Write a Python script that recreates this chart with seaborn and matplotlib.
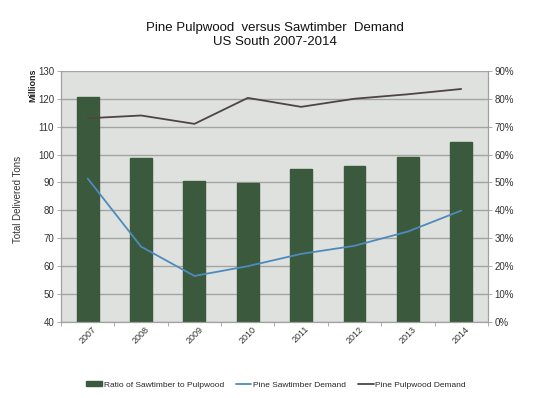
import matplotlib
matplotlib.use("Agg")
import matplotlib.pyplot as plt
from matplotlib.patches import Patch
from matplotlib.lines import Line2D
import seaborn as sns
import pandas as pd

years = ["2007", "2008", "2009", "2010", "2011", "2012", "2013", "2014"]
ratio_pct = [80.8, 58.7, 50.6, 49.8, 54.8, 55.9, 59.0, 64.5]
sawtimber = [91.4, 67.0, 56.5, 60.0, 64.4, 67.3, 72.4, 79.9]
pulpwood = [113.0, 114.0, 111.0, 120.3, 117.1, 120.0, 121.6, 123.5]
left_ticks = [40, 50, 60, 70, 80, 90, 100, 110, 120, 130]
right_ticks = [0, 10, 20, 30, 40, 50, 60, 70, 80, 90]

df = pd.DataFrame({"year": years, "ratio": ratio_pct,
                   "saw": sawtimber, "pulp": pulpwood})

sns.set_theme(style="white")
plt.rcParams['font.family'] = ['Liberation Sans', 'DejaVu Sans']

bar_c = "#3b5a3d"
saw_c = "#4d8bbd"
pulp_c = "#4f4444"
grid_c = "#a3a5a3"

fig = plt.figure(figsize=(5.5, 3.98), dpi=100)
ax = fig.add_axes([0.111, 0.191, 0.776, 0.631])
ax.set_facecolor("#dfe1de")

sns.barplot(data=df, x="year", y="ratio", color=bar_c, width=0.41,
            saturation=1, ax=ax, edgecolor=bar_c)
ax.set_ylim(0, 90)
ax.set_axisbelow(True)
ax.grid(axis="y", color=grid_c, linewidth=1.0)
ax.set_xlabel("")
ax.set_ylabel("")

ax2 = ax.twinx()
sns.lineplot(data=df, x="year", y="pulp", color=pulp_c, linewidth=1.3, ax=ax2)
sns.lineplot(data=df, x="year", y="saw", color=saw_c, linewidth=1.3, ax=ax2)
ax2.set_ylim(40, 130)
ax2.set_yticks(left_ticks)
ax2.set_ylabel("")
ax2.set_xlabel("")
ax.set_xlim(-0.5, 7.5)

ax.set_yticks(right_ticks)
ax.set_yticklabels([f"{t}%" for t in right_ticks])
ax.yaxis.tick_right()
ax2.yaxis.tick_left()

for a in (ax, ax2):
    for s in a.spines.values():
        s.set_color("#a0a0a0")
        s.set_linewidth(0.8)
    a.tick_params(axis="y", labelsize=7, labelcolor="#333333", length=3,
                  width=0.6, pad=2, color="#a0a0a0")
ax2.spines["top"].set_visible(False)
ax.spines["top"].set_visible(False)

ax.set_xticks(range(len(years)))
ax.set_xticklabels(years, rotation=45, fontsize=6.5, color="#333333")
ax.tick_params(axis="x", length=0, pad=2)
ax.set_xticks([i - 0.5 for i in range(len(years) + 1)], minor=True)
ax.tick_params(axis="x", which="minor", length=3, color="#a0a0a0", width=0.6)
ax.tick_params(axis="x", which="both", bottom=True)

fig.text(0.5, 0.93, "Pine Pulpwood  versus Sawtimber  Demand",
         ha="center", va="center", fontsize=9.5, color="#111111")
fig.text(0.5, 0.895, "US South 2007-2014", ha="center", va="center",
         fontsize=9.5, color="#111111")
fig.text(0.06, 0.785, "Millions", rotation=90, ha="center", va="center",
         fontsize=6.5, fontweight="bold", color="#222222")
fig.text(0.033, 0.5, "Total Delivered Tons", rotation=90, ha="center",
         va="center", fontsize=7, color="#333333")

handles = [Patch(facecolor=bar_c, edgecolor=bar_c),
           Line2D([0], [0], color=saw_c, linewidth=1.3),
           Line2D([0], [0], color=pulp_c, linewidth=1.3)]
labels = ["Ratio of Sawtimber to Pulpwood", "Pine Sawtimber Demand",
          "Pine Pulpwood Demand"]
fig.legend(handles, labels, loc="center", bbox_to_anchor=(0.502, 0.033),
           ncol=3, frameon=False, fontsize=6.0, handlelength=1.9,
           handleheight=0.5, columnspacing=1.4, handletextpad=0.2)

fig.savefig("out.png", dpi=100)
